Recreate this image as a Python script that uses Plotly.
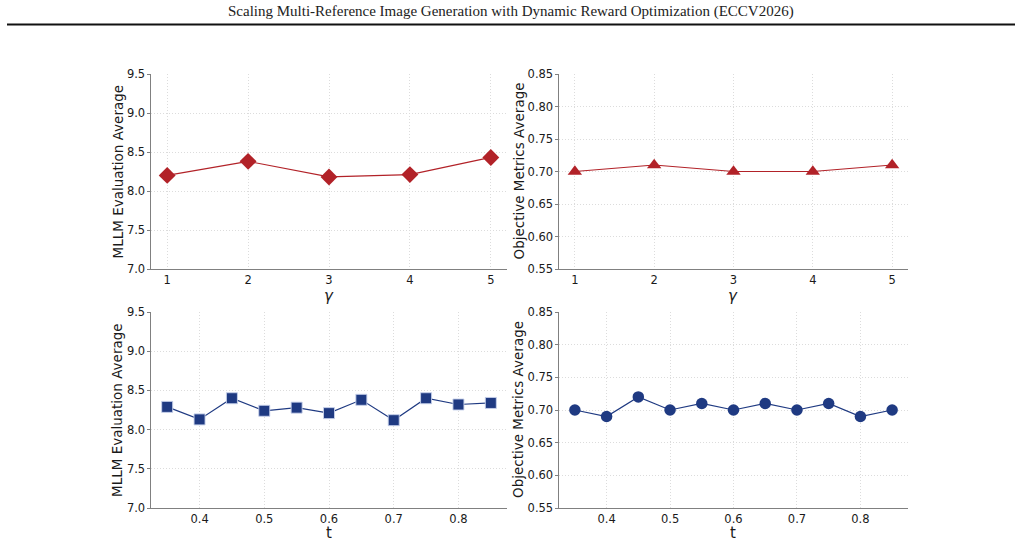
import plotly.graph_objects as go

# ---- data ----
gamma = [1, 2, 3, 4, 5]
gamma_mllm = [8.20, 8.38, 8.18, 8.21, 8.43]
gamma_obj = [0.70, 0.71, 0.70, 0.70, 0.71]

t_vals = [0.35, 0.40, 0.45, 0.50, 0.55, 0.60, 0.65, 0.70, 0.75, 0.80, 0.85]
t_mllm = [8.29, 8.13, 8.40, 8.24, 8.28, 8.21, 8.38, 8.12, 8.40, 8.32, 8.34]
t_obj = [0.70, 0.69, 0.72, 0.70, 0.71, 0.70, 0.71, 0.70, 0.71, 0.69, 0.70]

title_text = "Scaling Multi-Reference Image Generation with Dynamic Reward Optimization (ECCV2026)"
ylab_mllm = "MLLM Evaluation Average"
ylab_obj = "Objective Metrics Average"

RED = "#b22228"
BLUE = "#1f3a82"

W, H = 1022, 543

def px_x(p):
    return p / W

def px_y(p):
    return 1 - p / H

fig = go.Figure()

fig.add_trace(go.Scatter(x=gamma, y=gamma_mllm, mode="lines+markers",
                         line=dict(color=RED, width=1.2),
                         marker=dict(symbol="diamond", size=13, color=RED),
                         xaxis="x", yaxis="y", showlegend=False))
fig.add_trace(go.Scatter(x=gamma, y=gamma_obj, mode="lines+markers",
                         line=dict(color=RED, width=1.2),
                         marker=dict(symbol="triangle-up", size=12.5, color=RED),
                         xaxis="x2", yaxis="y2", showlegend=False))
fig.add_trace(go.Scatter(x=t_vals, y=t_mllm, mode="lines+markers",
                         line=dict(color=BLUE, width=1.2),
                         marker=dict(symbol="square", size=11, color=BLUE,
                                     line=dict(color="rgba(200,210,235,0.9)", width=1)),
                         xaxis="x3", yaxis="y3", showlegend=False))
fig.add_trace(go.Scatter(x=t_vals, y=t_obj, mode="lines+markers",
                         line=dict(color=BLUE, width=1.2),
                         marker=dict(symbol="circle", size=11.5, color=BLUE),
                         xaxis="x4", yaxis="y4", showlegend=False))

tickfont = dict(family="DejaVu Sans", size=11.5, color="#1a1a1a")
spine = "#808080"
grid = "#dcdcdc"

def xax(dom, anchor, rng, tickvals, ticktext):
    return dict(domain=dom, anchor=anchor, range=rng, tickvals=tickvals, ticktext=ticktext,
                showline=True, linecolor=spine, linewidth=1, mirror=False,
                showgrid=True, gridcolor=grid, griddash="1px,2px", gridwidth=0.8,
                zeroline=False, ticks="", tickfont=tickfont, automargin=False)

def yax(dom, anchor, rng, tickvals, ticktext):
    return dict(domain=dom, anchor=anchor, range=rng, tickvals=tickvals, ticktext=ticktext,
                showline=True, linecolor=spine, linewidth=1, mirror=False,
                showgrid=True, gridcolor=grid, griddash="1px,2px", gridwidth=0.8,
                zeroline=False, ticks="outside", ticklen=3.5, tickcolor=spine,
                ticklabelstandoff=-1,
                tickfont=tickfont, automargin=False)

xl = [px_x(151), px_x(507)]
xr = [px_x(559), px_x(908)]
yt = [px_y(269), px_y(74)]
yb = [px_y(508), px_y(312)]

mllm_ticks = [7.0, 7.5, 8.0, 8.5, 9.0, 9.5]
mllm_text = ["7.0", "7.5", "8.0", "8.5", "9.0", "9.5"]
obj_ticks = [0.55, 0.60, 0.65, 0.70, 0.75, 0.80, 0.85]
obj_text = ["0.55", "0.60", "0.65", "0.70", "0.75", "0.80", "0.85"]
g_text = [str(g) for g in gamma]
t_ticks = [0.4, 0.5, 0.6, 0.7, 0.8]
t_text = ["0.4", "0.5", "0.6", "0.7", "0.8"]

fig.update_layout(
    width=W, height=H,
    margin=dict(l=0, r=0, t=0, b=0),
    paper_bgcolor="white", plot_bgcolor="white",
    xaxis=xax(xl, "y", [0.8, 5.2], gamma, g_text),
    yaxis=yax(yt, "x", [7.0, 9.5], mllm_ticks, mllm_text),
    xaxis2=xax(xr, "y2", [0.8, 5.2], gamma, g_text),
    yaxis2=yax(yt, "x2", [0.55, 0.85], obj_ticks, obj_text),
    xaxis3=xax(xl, "y3", [0.325, 0.875], t_ticks, t_text),
    yaxis3=yax(yb, "x3", [7.0, 9.5], mllm_ticks, mllm_text),
    xaxis4=xax(xr, "y4", [0.325, 0.875], t_ticks, t_text),
    yaxis4=yax(yb, "x4", [0.55, 0.85], obj_ticks, obj_text),
)

labfont = dict(family="DejaVu Sans", size=13.5, color="#1a1a1a")
xlabfont = dict(family="DejaVu Sans", size=15, color="#1a1a1a")

ann = []
# y axis titles
for xc, yc, txt in [(117, 171.5, ylab_mllm), (518, 171.5, ylab_obj),
                    (117, 410, ylab_mllm), (518, 410, ylab_obj)]:
    ann.append(dict(x=px_x(xc), y=px_y(yc), xref="paper", yref="paper", text=txt,
                    textangle=-90, showarrow=False, font=labfont,
                    xanchor="center", yanchor="middle"))
# x axis titles
for xc, yc, txt in [(329, 296, "<i>γ</i>"), (733, 296, "<i>γ</i>"),
                    (329, 533, "t"), (733, 533, "t")]:
    ann.append(dict(x=px_x(xc), y=px_y(yc), xref="paper", yref="paper", text=txt,
                    showarrow=False, font=xlabfont, xanchor="center", yanchor="middle"))
# header title
ann.append(dict(x=px_x(511), y=px_y(12), xref="paper", yref="paper", text=title_text,
                showarrow=False, font=dict(family="Liberation Serif", size=15, color="#222222"),
                xanchor="center", yanchor="middle"))
fig.update_layout(annotations=ann)

fig.add_shape(type="line", xref="paper", yref="paper",
              x0=px_x(7), x1=px_x(1015), y0=px_y(24.5), y1=px_y(24.5),
              line=dict(color="#111111", width=2))

fig.write_html("out.html")
